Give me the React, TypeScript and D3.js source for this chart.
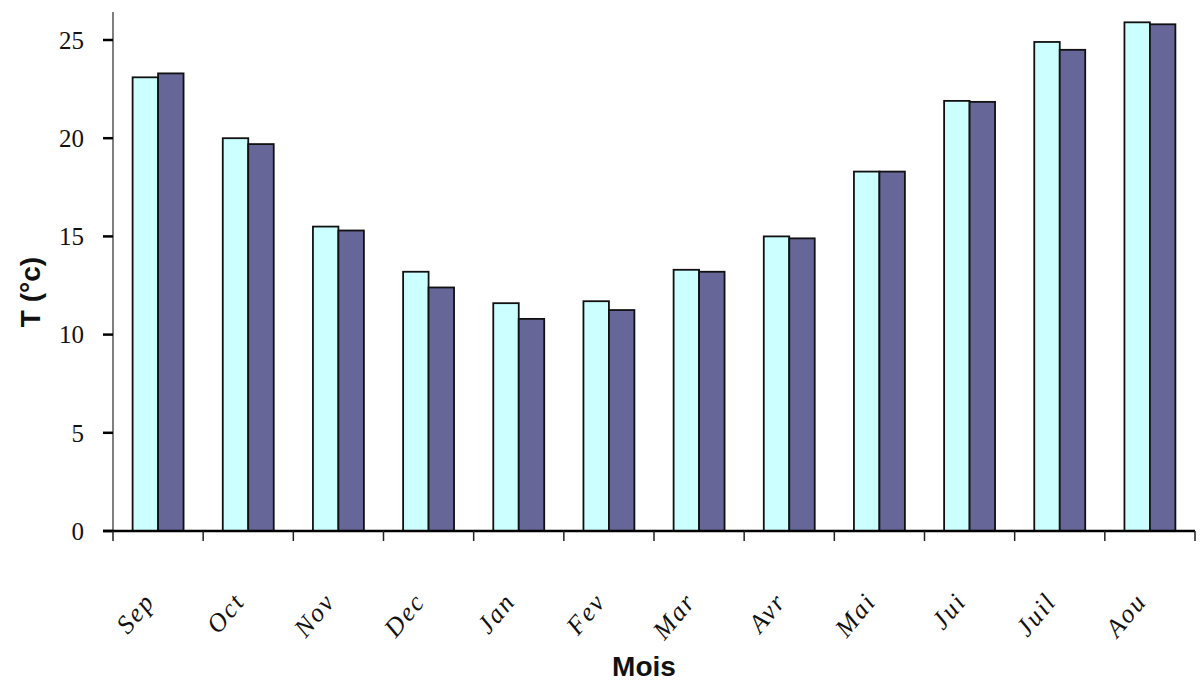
import React from "react";
import * as d3 from "d3";

const months = ["Sep", "Oct", "Nov", "Dec", "Jan", "Fev", "Mar", "Avr", "Mai", "Jui", "Juil", "Aou"];
const series1 = [23.1, 20.0, 15.5, 13.2, 11.6, 11.7, 13.3, 15.0, 18.3, 21.9, 24.9, 25.9];
const series2 = [23.3, 19.7, 15.3, 12.4, 10.8, 11.25, 13.2, 14.9, 18.3, 21.85, 24.5, 25.8];
const yTicks = [0, 5, 10, 15, 20, 25];
const colors = ["#CCFFFF", "#666699"];

export default function App() {
  const W = 1202, H = 684;
  const left = 113, right = 1195, top = 12, bottom = 531;
  const x = d3.scaleBand<string>().domain(months).range([left, right]).paddingInner(0).paddingOuter(0);
  const y = d3.scaleLinear().domain([0, 25]).range([bottom, 40]);
  const inner = d3.scaleBand<number>().domain([0, 1]).range([0, x.bandwidth()]).paddingOuter(0.77).paddingInner(0);
  const boundaries = months.map((m) => x(m)!).concat([right]);
  return (
    <svg width={W} height={H} style={{ position: "absolute", left: 0, top: 0, background: "#fff" }}>
      {months.map((m, i) =>
        [series1[i], series2[i]].map((v, s) => (
          <rect
            key={m + s}
            x={x(m)! + inner(s)!}
            y={y(v)}
            width={inner.bandwidth()}
            height={bottom - y(v)}
            fill={colors[s]}
            stroke="#111"
            strokeWidth={1.8}
          />
        ))
      )}
      <line x1={left} x2={left} y1={top} y2={bottom} stroke="#555" strokeWidth={1.5} />
      <line x1={left - 10} x2={right} y1={bottom} y2={bottom} stroke="#000" strokeWidth={2.5} />
      {yTicks.map((t) => (
        <g key={t}>
          <line x1={left - 10} x2={left} y1={y(t)} y2={y(t)} stroke="#000" strokeWidth={2.5} />
          <text x={84} y={y(t)} dy="0.35em" textAnchor="end" fontFamily="Liberation Serif, serif" fontSize={25} fill="#111">
            {t}
          </text>
        </g>
      ))}
      {boundaries.map((b, i) => (
        <line key={i} x1={b} x2={b} y1={bottom} y2={bottom + 10} stroke="#222" strokeWidth={1.5} />
      ))}
      {months.map((m) => {
        const cx = x(m)! + x.bandwidth() / 2 - 2;
        const cy = 602;
        return (
          <text
            key={m}
            x={cx}
            y={cy}
            textAnchor="end"
            transform={`rotate(-50 ${cx} ${cy})`}
            fontFamily="Liberation Serif, serif"
            fontStyle="italic"
            fontSize={26}
            letterSpacing={2}
            fill="#111"
          >
            {m}
          </text>
        );
      })}
      <text x={644} y={676} textAnchor="middle" fontFamily="Liberation Sans, Arial, sans-serif" fontWeight="bold" fontSize={28} fill="#111">
        Mois
      </text>
      <text
        x={40}
        y={292}
        textAnchor="middle"
        transform="rotate(-90 40 292)"
        fontFamily="Liberation Sans, Arial, sans-serif"
        fontWeight="bold"
        fontSize={28}
        fill="#111"
      >
        T (°c)
      </text>
    </svg>
  );
}
